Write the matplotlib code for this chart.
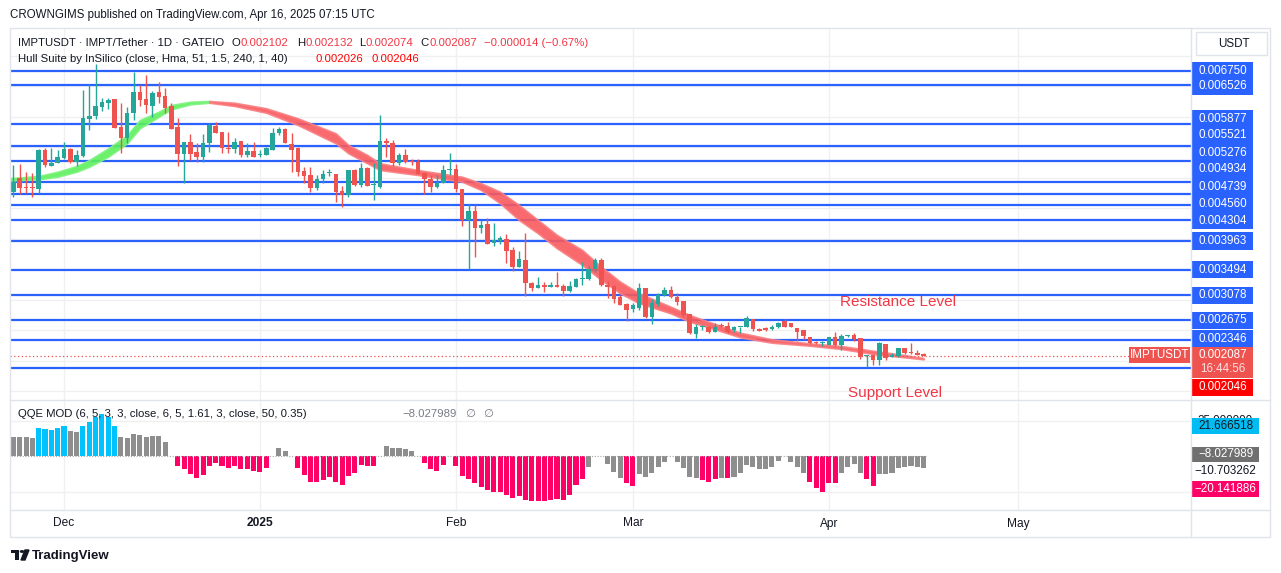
import matplotlib
matplotlib.use('Agg')
import matplotlib.pyplot as plt
import matplotlib.dates as mdates
from matplotlib.patches import Rectangle
from matplotlib.lines import Line2D
import pandas as pd
import datetime as dt

plt.rcParams['font.family'] = ['Liberation Sans', 'DejaVu Sans']

W, H = 1281, 573

# ---- data ----
dates = pd.date_range('2024-11-23', '2025-04-16', freq='D')

opens = [.004774, .005003, .004839, .004839, .004812, .005457, .005200, .005249, .005320, .005468,
         .005265, .005358, .005970, .006014, .006167, .006233, .006293, .005839, .005648, .006058,
         .006407, .006287, .006183, .006413, .006342, .006183, .005828, .005391, .005593, .005424,
         .005347, .005567, .005851, .005758, .005485, .005468, .005610, .005375, .005441, .005375,
         .005375, .005457, .005731, .005802, .005556, .005485, .005119, .005048, .004829, .004977,
         .005075, .005064, .004791, .004720, .005130, .004884, .005157, .004884, .004856, .005610,
         .005567, .005239, .005375, .005277, .005266, .005086, .004977, .004845, .004911, .005130,
         .005146, .004812, .004310, .004457, .004184, .004244, .003927, .003971, .003998, .003818,
         .003545, .003654, .003271, .003201, .003244, .003217, .003244, .003228, .003151, .003217,
         .003337, .003337, .003501, .003654, .003244, .003233, .003042, .002933, .002851, .002873,
         .003190, .002725, .002933, .003080, .003162, .003053, .002987, .002769, .002441, .002550,
         .002561, .002479, .002588, .002577, .002506, .002555, .002561, .002681, .002517, .002534,
         .002517, .002550, .002659, .002616, .002534, .002506, .002397, .002304, .002294, .002261,
         .002386, .002261, .002408, .002424, .002370, .002080, .002097, .002015, .002277, .002069,
         .002080, .002206, .002135, .002135, .002102]
highs = [.005211, .005227, .005102, .005074, .005468, .005484, .005484, .005457, .005593, .005484,
         .005457, .006440, .006539, .006866, .006315, .006315, .006293, .006222, .006167, .006735,
         .006522, .006686, .006429, .006571, .006468, .006222, .005976, .005593, .005719, .005566,
         .005719, .005905, .005922, .005758, .005758, .005649, .005610, .005567, .005594, .005457,
         .005512, .005813, .005840, .005813, .005731, .005512, .005184, .005184, .005048, .005130,
         .005140, .005064, .004867, .005130, .005140, .005239, .005184, .005239, .006031, .005649,
         .005621, .005403, .005468, .005304, .005304, .005102, .005048, .005048, .005212, .005402,
         .005228, .004812, .004566, .004555, .004310, .004337, .004266, .004047, .004080, .003872,
         .003801, .004091, .003299, .003381, .003299, .003299, .003452, .003255, .003310, .003364,
         .003616, .003550, .003692, .003681, .003310, .003244, .003080, .002944, .002944, .003271,
         .003190, .003009, .003107, .003206, .003228, .003107, .002987, .002769, .002605, .002588,
         .002572, .002616, .002616, .002643, .002572, .002561, .002736, .002681, .002534, .002550,
         .002588, .002643, .002681, .002627, .002545, .002506, .002397, .002326, .002326, .002397,
         .002479, .002441, .002424, .002452, .002370, .002097, .002113, .002315, .002277, .002124,
         .002217, .002206, .002288, .002179, .002132]
lows = [.004692, .004730, .004746, .004692, .004757, .005173, .005194, .005238, .005309, .005249,
        .005194, .005347, .005785, .005970, .006101, .006123, .005812, .005413, .005577, .005948,
        .006183, .006069, .005992, .006222, .006058, .005806, .005194, .004910, .005293, .005265,
        .005265, .005430, .005731, .005403, .005414, .005414, .005348, .005337, .005337, .005337,
        .005375, .005457, .005703, .005567, .005102, .005031, .004911, .004774, .004802, .004911,
        .005031, .004610, .004529, .004692, .004867, .004856, .004867, .004638, .004829, .005348,
        .005195, .005212, .005239, .005212, .005064, .004731, .004774, .004829, .004911, .005048,
        .004774, .004211, .003506, .003708, .004091, .003916, .003883, .003911, .003610, .003479,
        .003545, .003069, .003151, .003190, .003135, .003217, .003217, .003069, .003135, .003217,
        .003244, .003326, .003463, .003228, .003037, .002944, .002916, .002659, .002796, .002834,
        .002698, .002599, .002900, .003064, .003025, .002916, .002725, .002441, .002370, .002506,
        .002463, .002479, .002561, .002452, .002479, .002463, .002550, .002495, .002490, .002495,
        .002506, .002534, .002550, .002550, .002326, .002353, .002277, .002277, .002244, .002261,
        .002250, .002179, .002397, .002332, .002037, .001894, .001933, .001933, .002015, .002058,
        .002069, .002113, .002113, .002097, .002074]
closes = [.004938, .004828, .004828, .004834, .005457, .005211, .005249, .005337, .005468, .005255,
          .005375, .005976, .006014, .006178, .006244, .006276, .005823, .005648, .006069, .006407,
          .006276, .006200, .006397, .006331, .006151, .005806, .005391, .005593, .005391, .005347,
          .005566, .005867, .005742, .005485, .005468, .005594, .005375, .005446, .005348, .005392,
          .005485, .005742, .005802, .005567, .005457, .005102, .005031, .004829, .004977, .005064,
          .005086, .004774, .004720, .005130, .004884, .005157, .004867, .004895, .005605, .005567,
          .005239, .005375, .005266, .005255, .005064, .004977, .004845, .004922, .005130, .005146,
          .004812, .004310, .004457, .004184, .004228, .003916, .003982, .004015, .003807, .003545,
          .003670, .003271, .003201, .003244, .003217, .003244, .003217, .003146, .003228, .003337,
          .003364, .003501, .003654, .003244, .003217, .003015, .002916, .002834, .002916, .003190,
          .002725, .002944, .003080, .003162, .003042, .002971, .002752, .002452, .002561, .002561,
          .002468, .002561, .002572, .002479, .002550, .002561, .002698, .002517, .002495, .002506,
          .002561, .002627, .002561, .002561, .002479, .002408, .002288, .002288, .002299, .002386,
          .002261, .002408, .002413, .002353, .002058, .002097, .002015, .002288, .002042, .002097,
          .002206, .002124, .002124, .002097, .002087]

hull_dates = ['2024-11-22', '2024-11-27', '2024-11-30', '2024-12-03', '2024-12-05', '2024-12-08',
              '2024-12-11', '2024-12-13', '2024-12-16', '2024-12-18', '2024-12-21', '2024-12-24',
              '2024-12-28', '2025-01-02', '2025-01-07', '2025-01-13', '2025-01-15', '2025-01-18',
              '2025-01-20', '2025-01-26', '2025-02-02', '2025-02-05', '2025-02-08', '2025-02-11',
              '2025-02-14', '2025-02-17', '2025-02-21', '2025-02-24', '2025-02-27', '2025-03-02',
              '2025-03-07', '2025-03-10', '2025-03-13', '2025-03-18', '2025-03-23', '2025-03-29',
              '2025-04-03', '2025-04-08', '2025-04-13', '2025-04-16']
hull_upper = [.004993, .005031, .005101, .005195, .005293, .005485, .005703, .005949, .006085, .006195,
              .006249, .006260, .006232, .006141, .005977, .005731, .005539, .005375, .005239, .005129,
              .005019, .004911, .004773, .004555, .004309, .004064, .003818, .003544, .003298, .003108,
              .002888, .002752, .002642, .002462, .002354, .002288, .002244, .002167, .002096, .002046]
hull_lower = [.004954, .004977, .005019, .005101, .005183, .005347, .005567, .005813, .006003, .006124,
              .006206, .006232, .006178, .006068, .005867, .005567, .005403, .005239, .005129, .005047,
              .004937, .004801, .004583, .004309, .004091, .003846, .003572, .003326, .003108, .002944,
              .002780, .002642, .002550, .002386, .002298, .002249, .002195, .002113, .002059, .002026]
hull_turn = '2024-12-24'

levels = [0.006750, 0.006526, 0.005877, 0.005521, 0.005276, 0.004934, 0.004739, 0.004560,
          0.004304, 0.003963, 0.003494, 0.003078, 0.002675, 0.002346, 0.001890]
level_labels = ['0.006750', '0.006526', '0.005877', '0.005521', '0.005276', '0.004934', '0.004739',
                '0.004560', '0.004304', '0.003963', '0.003494', '0.003078', '0.002675', '0.002346']

qqe_vals = [13.9, 13.6, 13.4, 12.7, 19.7, 19.2, 18.5, 19.7, 21.0, 17.8, 16.9, 21.0, 24.3, 27.8,
            29.7, 27.8, 21.6, 13.4, 13.2, 15.7, 15.3, 13.9, 14.3, 14.3, 10.2, 0.0,
            -6.4, -8.9, -12.2, -14.8, -12.9, -6.6, -4.8, -6.4, -8.2, -6.6, -8.5, -8.5, -10.1, -10.6, -7.8,
            0.0, 5.7, 3.8, 0.0,
            -7.8, -12.9, -18.0, -18.0, -16.4, -14.5, -17.6, -19.7, -13.4, -11.3, -5.9, -6.4, -6.4,
            0.0, 7.3, 5.7, 5.7, 5.0, 3.8, 0.0,
            -4.3, -8.7, -10.1, -5.7, 0.0,
            -6.4, -13.4, -15.9, -18.7, -21.5, -23.4, -24.6, -24.6, -26.9, -28.8, -27.6, -30.4, -30.8,
            -30.8, -30.8, -30.4, -29.9, -30.4, -26.9, -19.9, -15.9,
            -7.1, 0.0, 0.0,
            -5.5, -10.6, -15.3, -18.7, -20.4, -12.5, -14.6, -11.3, -7.1, -3.6, 0.0,
            -3.6, -7.8, -14.1, -15.3, -16.4, -17.6, -15.9, -14.8, -15.3, -14.1, -11.8, -5.9, -7.1,
            -8.7, -8.7, -7.1, -2.9, 0.0,
            -3.6, -7.1, -11.8, -17.6, -21.8, -24.6, -18.3, -18.3, -11.8, -7.1, -5.5, -11.8, -15.9,
            -20.4, -12.5, -12.5, -11.8, -7.8, -7.1, -6.4, -7.1, -8.03]
# g = gray, b = blue, p = pink
qqe_kind = ('gggg' + 'bbbbb' + 'gg' + 'bbbbbb' + 'gggggggg' + 'g' + 'p' * 15 + 'gggg' + 'p' * 13
            + 'g' * 7 + 'pppp' + 'g' + 'p' * 21 + 'g' * 6 + 'pp' + 'g' * 10 + 'ppp' + 'g' + 'p'
            + 'g' * 12 + 'p' * 5 + 'g' * 4 + 'pp' + 'g' * 8)

month_ticks = ['2024-12-01', '2025-01-01', '2025-02-01', '2025-03-01', '2025-04-01', '2025-05-01']
month_names = ['Dec', '2025', 'Feb', 'Mar', 'Apr', 'May']

# ---- helpers in figure pixels ----
def fx(x):
    return x / W

def fy(y):
    return 1 - y / H

def ftext(x, y, s, **kw):
    kw.setdefault('va', 'center')
    fig.text(fx(x), fy(y), s, **kw)

def fbox(x0, y0, x1, y1, color, **kw):
    fig.add_artist(Rectangle((fx(x0), fy(y1)), (x1 - x0) / W, (y1 - y0) / H,
                             transform=fig.transFigure, facecolor=color, edgecolor='none', **kw))

def fline(x0, y0, x1, y1, color='#e0e3eb', lw=1.0):
    fig.add_artist(Line2D([fx(x0), fx(x1)], [fy(y0), fy(y1)], transform=fig.transFigure,
                          color=color, lw=lw))

fig = plt.figure(figsize=(W / 100, H / 100), dpi=100)
fig.patch.set_facecolor('white')

xs = mdates.date2num(dates.to_pydatetime())
dec1 = mdates.date2num(dt.datetime(2024, 12, 1))
xlim = (dec1 - 8.54, dec1 + 178.3)
month_x = [mdates.date2num(dt.datetime.strptime(m, '%Y-%m-%d')) for m in month_ticks]

# ---- price pane ----
ax = fig.add_axes([fx(10), fy(400), (1191 - 10) / W, (400 - 28) / H])
ax.set_xlim(xlim)
ax.set_ylim(0.001359, 0.007457)
ax.set_axis_off()

for g in [0.0015, 0.002, 0.0025, 0.003, 0.0035, 0.004, 0.0045, 0.005, 0.0055, 0.006, 0.0065, 0.007]:
    ax.axhline(g, color='#f0f0f0', lw=1, zorder=0)
for mx in month_x:
    ax.axvline(mx, color='#f0f0f0', lw=1, zorder=0)

for lv in levels:
    ax.axhline(lv, color='#2962ff', lw=1.6, zorder=2)

# hull suite band
hx = [mdates.date2num(dt.datetime.strptime(d, '%Y-%m-%d')) for d in hull_dates]
turn = hull_dates.index(hull_turn)
ax.fill_between(hx[:turn + 1], hull_lower[:turn + 1], hull_upper[:turn + 1],
                color='#5cf05c', lw=1.2, edgecolor='#7ef27e', alpha=0.9, zorder=3)
ax.fill_between(hx[turn:], hull_lower[turn:], hull_upper[turn:],
                color='#f85a5e', lw=1.2, edgecolor='#f98082', alpha=0.9, zorder=3)

# candles
for x, o, h, l, c in zip(xs, opens, highs, lows, closes):
    col = '#26a69a' if c >= o else '#ef5350'
    ax.vlines(x, l, h, color=col, lw=1.0, zorder=4)
    ax.bar(x, max(abs(c - o), 0.000018), bottom=min(o, c), width=0.72, color=col, lw=0, zorder=5)

ax.plot([xlim[0], xs[-1] + 33], [closes[-1]] * 2, color='#ef5350', lw=0.9, ls=(0, (1, 2)), zorder=3)

# ---- QQE pane ----
ax2 = fig.add_axes([fx(10), fy(510), (1191 - 10) / W, 110 / H])
ax2.set_xlim(xlim)
ax2.set_ylim(-37.36, 39.45)
ax2.set_axis_off()
for g in [25, -25]:
    ax2.axhline(g, color='#f0f0f0', lw=1, zorder=0)
for mx in month_x:
    ax2.axvline(mx, color='#f0f0f0', lw=1, zorder=0)
qcol = {'g': '#8e8e8e', 'b': '#00c2ff', 'p': '#ff0066'}
ax2.bar(xs, qqe_vals, width=0.8, color=[qcol[k] for k in qqe_kind], lw=0, zorder=2)
ax2.plot([xs[0] - 0.4, xs[-1] + 0.4], [0, 0], color='#a8a8a8', lw=0.8, ls=(0, (1, 1.5)), zorder=3)

# ---- frame ----
fig.add_artist(Rectangle((fx(10), fy(537)), 1260 / W, 509 / H, transform=fig.transFigure,
                         facecolor='none', edgecolor='#e0e3eb', lw=1))
fline(1191, 28, 1191, 537)
fline(10, 400, 1270, 400)
fline(10, 510, 1270, 510)

# ---- texts ----
ftext(10, 15, 'CROWNGIMS published on TradingView.com, Apr 16, 2025 07:15 UTC', fontsize=8.3, color='#131722')

red = '#f23645'
fs = 8.2
ftext(18, 42.5, 'IMPTUSDT · IMPT/Tether · 1D · GATEIO', fontsize=fs, color='#131722')
for x, s, c in [(232, 'O', '#131722'), (241, '0.002102', red), (297, 'H', '#131722'), (305, '0.002132', red),
                (359, 'L', '#131722'), (366, '0.002074', red), (420, 'C', '#131722'), (429, '0.002087', red),
                (484, '\u22120.000014 (\u22120.67%)', red)]:
    ftext(x, 42.5, s, fontsize=fs, color=c)
ftext(18, 59, 'Hull Suite by InSilico (close, Hma, 51, 1.5, 240, 1, 40)', fontsize=fs, color='#131722')
ftext(315, 59, '0.002026', fontsize=fs, color='#ff0000')
ftext(371, 59, '0.002046', fontsize=fs, color='#ff0000')

ftext(898, 302.5, 'Resistance Level', fontsize=11, color=red, ha='center')
ftext(895, 392.5, 'Support Level', fontsize=11, color=red, ha='center')

ftext(18, 414, 'QQE MOD (6, 5, 3, 3, close, 6, 5, 1.61, 3, close, 50, 0.35)', fontsize=fs, color='#131722')
ftext(402, 414, '\u22128.027989', fontsize=fs, color='#787b86')
ftext(465, 414, '\u2205', fontsize=fs, color='#787b86')
ftext(483, 414, '\u2205', fontsize=fs, color='#787b86')

for mx, name in zip(month_x, month_names):
    px = 10 + (mx - xlim[0]) / (xlim[1] - xlim[0]) * 1181
    ftext(px, 523.5, name, fontsize=8.6, color='#131722', ha='center',
          fontweight='bold' if name == '2025' else 'normal')

# ---- price scale labels ----
fig.add_artist(Rectangle((fx(1196), fy(55)), 71 / W, 23 / H, transform=fig.transFigure,
                         facecolor='white', edgecolor='#e0e3eb', lw=1))
ftext(1218, 44, 'USDT', fontsize=8.4, color='#131722', ha='left')

label_y = [71, 86, 118.5, 135.5, 152.5, 169.5, 186.5, 203.5, 220.5, 241, 269.5, 295, 320, 338.5]
for yc, s in zip(label_y, level_labels):
    fbox(1192, yc - 8.5, 1253, yc + 8.5, '#2962ff')
    ftext(1222.5, yc, s, fontsize=8.4, color='white', ha='center')

fbox(1129, 347, 1190, 363, '#ef5350')
ftext(1159.5, 355, 'IMPTUSDT', fontsize=8.4, color='white', ha='center')
fbox(1192, 347, 1253, 378, '#ef5350')
ftext(1222.5, 355, '0.002087', fontsize=8.4, color='white', ha='center')
ftext(1222.5, 369.5, '16:44:56', fontsize=8.4, color='#fde0e0', ha='center')
fbox(1192, 379, 1253, 395.5, '#ff0000')
ftext(1222.5, 387, '0.002046', fontsize=8.4, color='white', ha='center')

# QQE scale labels (25.000000 sits mostly hidden behind the blue box, as on the chart)
fig.text(fx(1225), fy(420.5), '25.000000', fontsize=8.4, color='#131722', ha='center', va='center', zorder=1)
fbox(1192, 418, 1259, 433.5, '#00bcf2', zorder=2)
ftext(1225.5, 425.7, '21.666518', fontsize=8.4, color='#131722', ha='center', zorder=3)
fbox(1192, 446.5, 1259, 462, '#707070')
ftext(1225.5, 454.3, '\u22128.027989', fontsize=8.4, color='white', ha='center')
ftext(1225.5, 471.3, '\u221210.703262', fontsize=8.4, color='#131722', ha='center')
fbox(1192, 481, 1259, 497, '#ff0066')
ftext(1225.5, 489, '\u221220.141886', fontsize=8.4, color='white', ha='center')

# ---- TradingView mark ----
fbox(11, 550, 19, 553, '#131722')
fbox(15, 550, 19, 560, '#131722')
fig.add_artist(plt.Circle((fx(22), fy(551.5)), 1.6 / W, transform=fig.transFigure, color='#131722'))
fig.add_artist(plt.Polygon([(fx(21), fy(560)), (fx(25), fy(550)), (fx(29), fy(550)), (fx(25), fy(560))],
                           closed=True, transform=fig.transFigure, color='#131722'))
ftext(32, 555.5, 'TradingView', fontsize=9.5, color='#131722', fontweight='bold')

fig.savefig('out.png', dpi=100)
